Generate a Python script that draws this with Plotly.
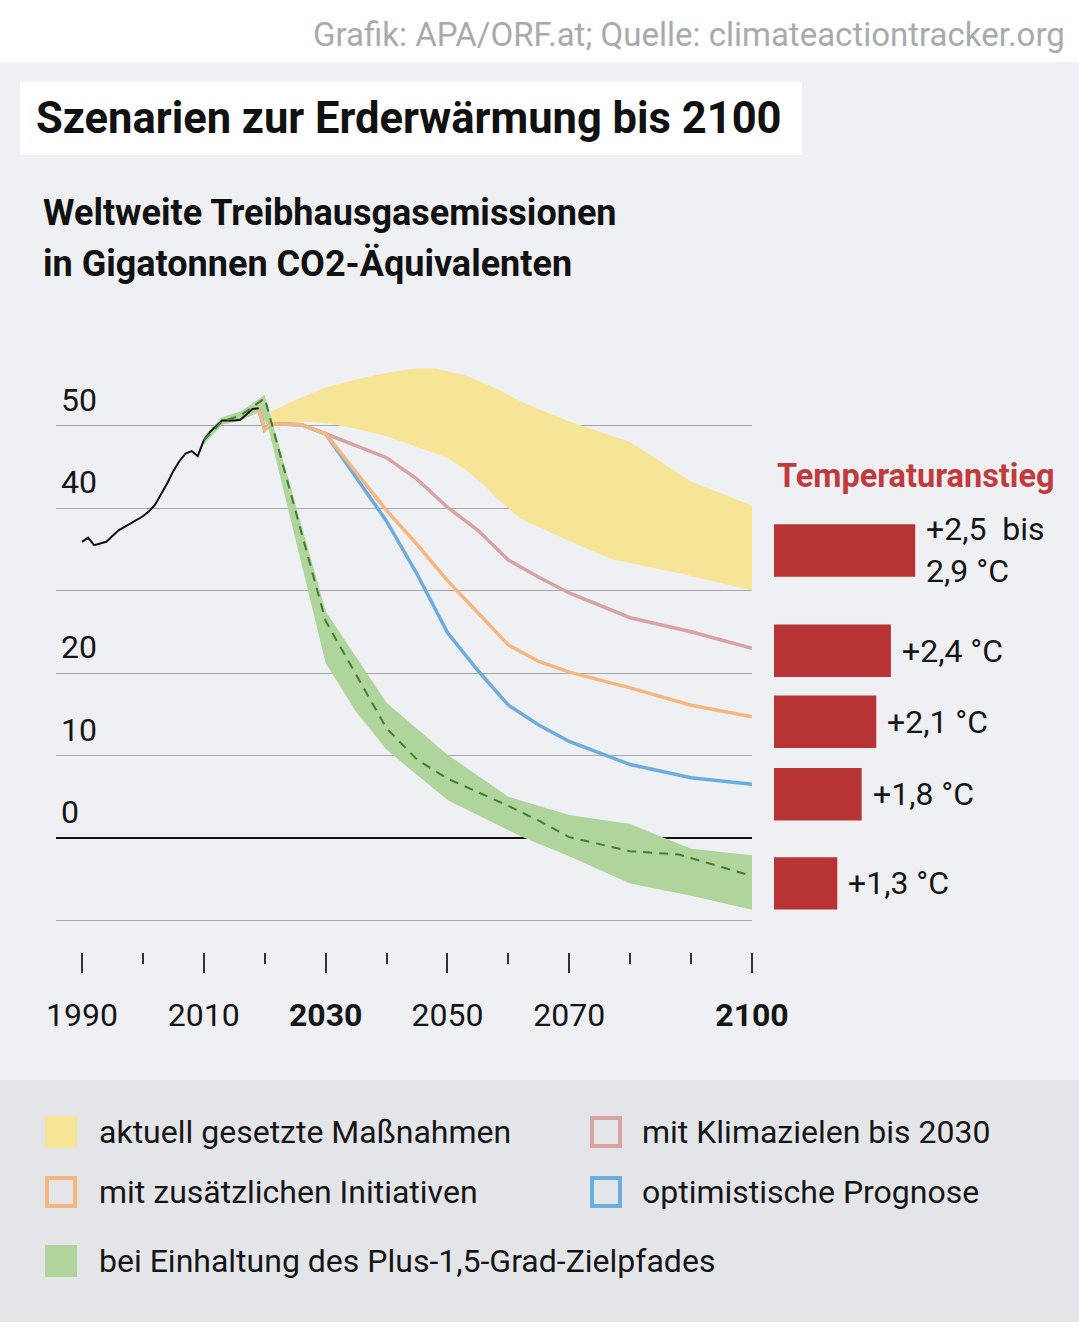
import plotly.graph_objects as go

W, H = 1079, 1342
T, B = 340, 390
PH = H - T - B

FONT = "Roboto, Lato, Liberation Sans, sans-serif"

# ---------------- data ----------------
hist_years = list(range(1990, 2020))
hist_vals = [35.9, 36.4, 35.5, 35.7, 35.9, 36.6, 37.3, 37.7, 38.1, 38.5,
             39.0, 39.6, 40.4, 41.7, 43.0, 44.5, 45.7, 46.6, 46.9, 46.3,
             48.2, 49.2, 49.9, 50.6, 50.6, 50.6, 50.7, 51.3, 52.0, 52.1]

proj_years = [2019, 2020, 2021, 2026, 2030, 2040, 2045, 2050, 2055, 2060, 2065, 2070, 2080, 2090, 2100]
pink_vals = [52.0, 49.5, 50.2, 50.1, 49.0, 46.1, 43.5, 40.1, 37.3, 33.7, 31.6, 29.7, 26.7, 25.0, 23.0]
orange_vals = [52.0, 49.5, 50.2, 50.1, 49.0, 39.7, 35.6, 31.2, 27.3, 23.4, 21.4, 20.1, 18.2, 16.1, 14.7]
blue_vals = [52.0, 49.5, 50.2, 50.1, 49.0, 38.4, 32.0, 24.9, 20.3, 16.1, 13.7, 11.7, 8.9, 7.3, 6.5]

cur_up_years = [2020, 2021, 2026, 2030, 2035, 2040, 2045, 2048, 2053, 2058, 2062, 2070, 2080, 2090, 2100]
cur_up_vals = [49.6, 51.7, 53.4, 54.6, 55.6, 56.4, 56.9, 56.9, 56.1, 54.5, 52.9, 50.5, 48.0, 43.2, 40.3]
cur_lo_years = [2020, 2021, 2026, 2030, 2035, 2040, 2045, 2050, 2053, 2056, 2058, 2062, 2070, 2077, 2088, 2100]
cur_lo_vals = [49.6, 50.2, 50.5, 50.3, 49.6, 48.7, 47.4, 46.1, 44.6, 42.8, 41.2, 38.7, 36.0, 33.8, 32.1, 30.0]

g_up_years = [2010, 2013, 2016, 2018, 2020, 2030, 2036, 2040, 2050, 2060, 2070, 2080, 2090, 2100]
g_up_vals = [48.7, 51.0, 51.7, 52.7, 53.7, 27.5, 20.8, 16.4, 10.1, 5.0, 2.8, 1.7, -1.3, -2.1]
g_lo_years = [2010, 2013, 2016, 2019, 2020.5, 2030, 2035, 2040, 2050, 2062, 2070, 2080, 2090, 2100]
g_lo_vals = [47.7, 50.1, 50.6, 51.6, 50.0, 21.2, 15.3, 10.7, 4.6, 0.2, -2.2, -5.5, -7.0, -8.7]
g_mid_years = [2010, 2013, 2016, 2018, 2020, 2030, 2036, 2040, 2045, 2050, 2060, 2065, 2070, 2080, 2088, 2093, 2100]
g_mid_vals = [48.2, 50.5, 51.2, 52.2, 53.3, 26.3, 18.6, 13.3, 9.5, 7.2, 3.9, 2.1, 0.1, -1.6, -2.0, -3.1, -4.6]

temp_vals = [2.9, 2.4, 2.1, 1.8, 1.3]
temp_pos = [34.85, 22.7, 14.1, 5.3, -5.5]
temp_labels = ["+2,5\u00a0 bis<br>2,9 °C", "+2,4 °C", "+2,1 °C", "+1,8 °C", "+1,3 °C"]

x_tickvals = [1990, 2010, 2030, 2050, 2070, 2100]
x_ticktext = ["1990", "2010", "<b>2030</b>", "2050", "2070", "<b>2100</b>"]
x_minorvals = [2000, 2020, 2040, 2060, 2080, 2090]
y_tickvals = [-10, 0, 10, 20, 30, 40, 50]
y_ticktext = ["", "0", "10", "20", "", "40", "50"]

legend_items = [
    ("aktuell gesetzte Maßnahmen", "#f7e597", "fill", 0, 0),
    ("mit zusätzlichen Initiativen", "#f6b67d", "line", 0, 1),
    ("bei Einhaltung des Plus-1,5-Grad-Zielpfades", "#b0d59c", "fill", 0, 2),
    ("mit Klimazielen bis 2030", "#d9a3a3", "line", 1, 0),
    ("optimistische Prognose", "#6cacdf", "line", 1, 1),
]

# ---------------- helpers ----------------
def X(px):
    return px / W

def Y(py):
    return (H - B - py) / PH

MAIN_BG = "#eff0f4"
LEG_BG = "#e4e5e9"
TXT = "#151515"

fig = go.Figure()

fig.add_trace(go.Scatter(
    x=cur_up_years + cur_lo_years[::-1], y=cur_up_vals + cur_lo_vals[::-1],
    fill="toself", fillcolor="#f7e597", line=dict(width=0), mode="lines",
    hoverinfo="skip", showlegend=False))
fig.add_trace(go.Scatter(
    x=g_up_years + g_lo_years[::-1], y=g_up_vals + g_lo_vals[::-1],
    fill="toself", fillcolor="#b0d59c", line=dict(width=0), mode="lines",
    hoverinfo="skip", showlegend=False))
fig.add_trace(go.Scatter(x=proj_years, y=pink_vals, mode="lines",
                         line=dict(color="#d9a3a3", width=3.5), showlegend=False))
fig.add_trace(go.Scatter(x=proj_years, y=blue_vals, mode="lines",
                         line=dict(color="#6cacdf", width=3.5), showlegend=False))
fig.add_trace(go.Scatter(x=proj_years, y=orange_vals, mode="lines",
                         line=dict(color="#f6b67d", width=3.5), showlegend=False))
fig.add_trace(go.Scatter(x=hist_years, y=hist_vals, mode="lines",
                         line=dict(color="#111111", width=2), showlegend=False))
fig.add_trace(go.Scatter(x=g_mid_years, y=g_mid_vals, mode="lines",
                         line=dict(color="#3f7f2f", width=2, dash="9px,7px"), showlegend=False))

fig.add_trace(go.Bar(x=temp_vals, y=temp_pos, orientation="h", width=6.36,
                     marker=dict(color="#b83434", line=dict(width=0)),
                     xaxis="x2", yaxis="y2", showlegend=False, hoverinfo="skip"))

annotations = []
for v, p, lab in zip(temp_vals, temp_pos, temp_labels):
    annotations.append(dict(x=v, y=p, xref="x2", yref="y2", text=lab, showarrow=False,
                            xanchor="left", yanchor="middle", align="left", xshift=9,
                            font=dict(family=FONT, size=32, color=TXT)))

# y axis labels (sit above their grid line)
for v, lab in zip(y_tickvals, y_ticktext):
    if lab:
        annotations.append(dict(x=X(59), y=v, xref="paper", yref="y", text=lab,
                                showarrow=False, xanchor="left", yanchor="middle",
                                yshift=26, font=dict(family=FONT, size=32, color=TXT)))

annotations += [
    dict(x=X(1067), y=Y(34), xref="paper", yref="paper", xanchor="right", yanchor="middle",
         text="Grafik: APA/ORF.at; Quelle: climateactiontracker.org", showarrow=False,
         font=dict(family=FONT, size=33, color="#a9aaae")),
    dict(x=X(34), y=Y(119), xref="paper", yref="paper", xanchor="left", yanchor="middle",
         text="<b>Szenarien zur Erderwärmung bis 2100</b>", showarrow=False,
         font=dict(family=FONT, size=43.5, color="#111111")),
    dict(x=X(41), y=Y(213), xref="paper", yref="paper", xanchor="left", yanchor="middle",
         text="<b>Weltweite Treibhausgasemissionen</b>", showarrow=False,
         font=dict(family=FONT, size=36, color="#111111")),
    dict(x=X(41), y=Y(264), xref="paper", yref="paper", xanchor="left", yanchor="middle",
         text="<b>in Gigatonnen CO2-Äquivalenten</b>", showarrow=False,
         font=dict(family=FONT, size=36, color="#111111")),
    dict(x=X(775), y=Y(476), xref="paper", yref="paper", xanchor="left", yanchor="middle",
         text="<b>Temperaturanstieg</b>", showarrow=False,
         font=dict(family=FONT, size=32.5, color="#c13a3c")),
]

shapes = [
    dict(type="rect", xref="paper", yref="paper", x0=0, x1=1, y0=Y(1080), y1=Y(62),
         fillcolor=MAIN_BG, line=dict(width=0), layer="below"),
    dict(type="rect", xref="paper", yref="paper", x0=0, x1=1, y0=Y(1322), y1=Y(1080),
         fillcolor=LEG_BG, line=dict(width=0), layer="below"),
    dict(type="rect", xref="paper", yref="paper", x0=X(20), x1=X(802), y0=Y(155), y1=Y(82),
         fillcolor="#ffffff", line=dict(width=0), layer="below"),
]

col_sq = [45, 590]
col_tx = [97, 640]
row_c = [1132, 1192, 1261]
for label, color, style, col, row in legend_items:
    cx0 = col_sq[col]
    cy = row_c[row]
    if style == "fill":
        shapes.append(dict(type="rect", xref="paper", yref="paper",
                           x0=X(cx0), x1=X(cx0 + 32), y0=Y(cy + 16), y1=Y(cy - 16),
                           fillcolor=color, line=dict(width=0)))
    else:
        shapes.append(dict(type="rect", xref="paper", yref="paper",
                           x0=X(cx0 + 2), x1=X(cx0 + 30), y0=Y(cy + 14), y1=Y(cy - 14),
                           fillcolor=LEG_BG, line=dict(width=4, color=color)))
    annotations.append(dict(x=X(col_tx[col]), y=Y(cy), xref="paper", yref="paper",
                            xanchor="left", yanchor="middle", text=label, showarrow=False,
                            font=dict(family=FONT, size=32, color=TXT)))

fig.update_layout(
    width=W, height=H,
    margin=dict(l=0, r=0, t=T, b=B, pad=0),
    paper_bgcolor="#ffffff", plot_bgcolor="rgba(0,0,0,0)",
    showlegend=False,
    font=dict(family=FONT, color=TXT),
    xaxis=dict(domain=[X(56), X(752)], range=[1985.73, 2100], tickmode="array",
               tickvals=x_tickvals, ticktext=x_ticktext, ticks="outside", ticklen=20,
               tickwidth=1.5, tickcolor="#333333", showgrid=False, zeroline=False,
               showline=False, tickfont=dict(family=FONT, size=32, color=TXT),
               ticklabelstandoff=15, automargin=False, fixedrange=True,
               minor=dict(tickmode="array", tickvals=x_minorvals, ticks="outside",
                          ticklen=11, tickwidth=1.5, tickcolor="#333333", showgrid=False)),
    yaxis=dict(domain=[0, 1], range=[-13.818, 60.364], tickmode="array",
               tickvals=y_tickvals, showticklabels=False, showgrid=True,
               gridcolor="#a8a8a8", gridwidth=1, zeroline=True, zerolinecolor="#111111",
               zerolinewidth=2, ticks="", automargin=False, fixedrange=True, anchor="x"),
    xaxis2=dict(domain=[X(774), 1], range=[0, 305 / 48.7], visible=False,
                anchor="y2", fixedrange=True),
    yaxis2=dict(domain=[0, 1], range=[-13.818, 60.364], visible=False,
                anchor="x2", fixedrange=True),
    shapes=shapes,
    annotations=annotations,
)

fig.write_html("out.html", config={"displayModeBar": False},
               post_script="document.body.style.margin='0px';")
